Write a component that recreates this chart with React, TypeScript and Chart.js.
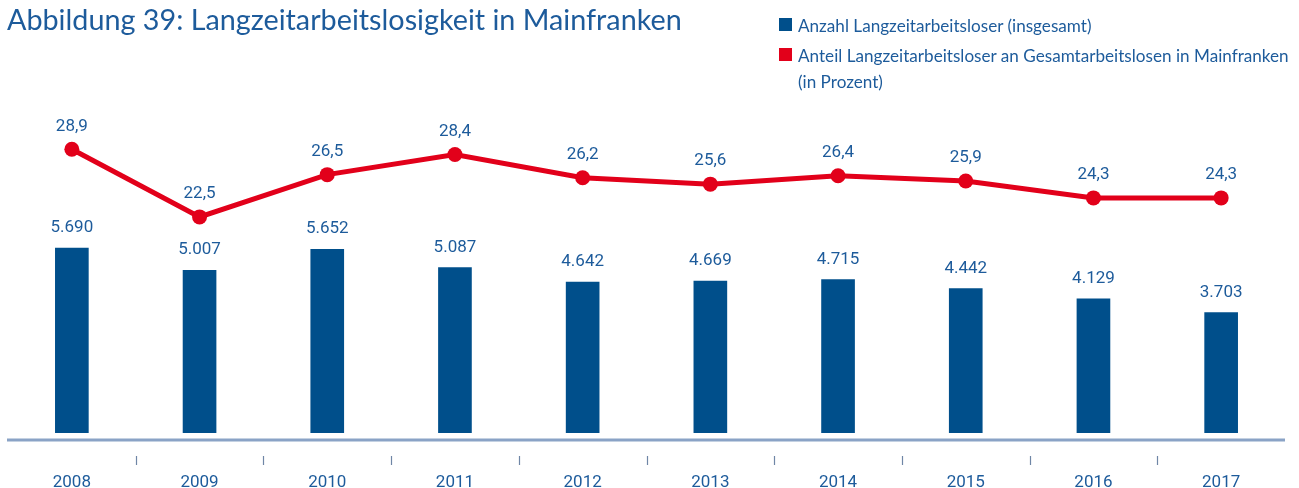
import React, { useEffect, useRef } from "react";
import { Chart, registerables } from "chart.js";

Chart.register(...registerables);

const years = ["2008", "2009", "2010", "2011", "2012", "2013", "2014", "2015", "2016", "2017"];
const anzahl = [5690, 5007, 5652, 5087, 4642, 4669, 4715, 4442, 4129, 3703];
const anteil = [28.9, 22.5, 26.5, 28.4, 26.2, 25.6, 26.4, 25.9, 24.3, 24.3];

const titleText = "Abbildung 39: Langzeitarbeitslosigkeit in Mainfranken";
const legendBar = "Anzahl Langzeitarbeitsloser (insgesamt)";
const legendLine1 = "Anteil Langzeitarbeitsloser an Gesamtarbeitslosen in Mainfranken";
const legendLine2 = "(in Prozent)";

const BLUE = "#004f8b";
const RED = "#e2001a";
const TEXT = "#1d5b9b";
const AXIS = "#8aa3c6";
const HEADFONT = 'Lato, "Open Sans", sans-serif';
const NUMFONT = "Roboto, sans-serif";

const fmtInt = (v: number) => {
  const s = String(Math.round(v));
  return s.replace(/\B(?=(\d{3})+(?!\d))/g, ".");
};
const fmtDec = (v: number) => v.toFixed(1).replace(".", ",");

let measureCtx: CanvasRenderingContext2D | null = null;
const measure = (text: string, font: string) => {
  if (!measureCtx) measureCtx = document.createElement("canvas").getContext("2d");
  if (!measureCtx) return 1;
  measureCtx.font = font;
  return measureCtx.measureText(text).width || 1;
};

const TITLE_SIZE = 28;
const LEGEND_SIZE = 18;
const titleScale = 674.7 / measure(titleText, `${TITLE_SIZE}px ${HEADFONT}`);
const legendScale = 491 / measure(legendLine1, `${LEGEND_SIZE}px ${HEADFONT}`);

const labelsPlugin = {
  id: "valueLabels",
  afterDatasetsDraw(chart: any) {
    const ctx = chart.ctx;
    ctx.save();
    ctx.fillStyle = TEXT;
    ctx.font = `17px ${NUMFONT}`;
    ctx.textAlign = "center";
    ctx.textBaseline = "middle";
    chart.data.datasets.forEach((ds: any, di: number) => {
      const meta = chart.getDatasetMeta(di);
      meta.data.forEach((el: any, i: number) => {
        const v = ds.data[i];
        if (ds.type === "line") {
          ctx.fillText(fmtDec(v), el.x, el.y - 23);
        } else {
          ctx.fillText(fmtInt(v), el.x, el.y - 20);
        }
      });
    });
    ctx.restore();
  },
};

const axisPlugin = {
  id: "customAxis",
  afterDraw(chart: any) {
    const ctx = chart.ctx;
    const area = chart.chartArea;
    const xs = chart.scales.x;
    ctx.save();
    ctx.strokeStyle = AXIS;
    ctx.lineWidth = 3;
    ctx.beginPath();
    ctx.moveTo(area.left - 1, area.bottom + 7);
    ctx.lineTo(area.right, area.bottom + 7);
    ctx.stroke();
    ctx.strokeStyle = "#6f86a6";
    ctx.lineWidth = 1.2;
    for (let i = 0; i < years.length - 1; i++) {
      const x = Math.round((xs.getPixelForValue(i) + xs.getPixelForValue(i + 1)) / 2) + 0.5;
      ctx.beginPath();
      ctx.moveTo(x, area.bottom + 23);
      ctx.lineTo(x, area.bottom + 32);
      ctx.stroke();
    }
    ctx.restore();
  },
};

const textStyle = (size: number, scale: number, left: number, top: number): React.CSSProperties => ({
  position: "absolute",
  left,
  top,
  fontFamily: HEADFONT,
  fontSize: size,
  lineHeight: `${size}px`,
  color: TEXT,
  whiteSpace: "nowrap",
  transform: `scaleX(${scale})`,
  transformOrigin: "left top",
});

export default function App() {
  const ref = useRef<HTMLCanvasElement | null>(null);

  useEffect(() => {
    if (!ref.current) return;
    const chart = new Chart(ref.current, {
      type: "bar",
      data: {
        labels: years,
        datasets: [
          {
            type: "line",
            label: legendLine1,
            data: anteil,
            yAxisID: "y2",
            borderColor: RED,
            backgroundColor: RED,
            borderWidth: 5,
            pointRadius: 7.5,
            pointBackgroundColor: RED,
            pointBorderWidth: 0,
            tension: 0,
            order: 0,
          } as any,
          {
            type: "bar",
            label: legendBar,
            data: anzahl,
            yAxisID: "y",
            backgroundColor: BLUE,
            barThickness: 33,
            order: 1,
          } as any,
        ],
      },
      options: {
        responsive: false,
        animation: false,
        devicePixelRatio: 1,
        layout: { padding: { left: 8, right: 14, top: 100, bottom: 0 } },
        plugins: {
          legend: { display: false },
          title: { display: false },
          tooltip: { enabled: false },
        },
        scales: {
          x: {
            offset: true,
            grid: { display: false, drawTicks: false },
            border: { display: false },
            ticks: {
              color: TEXT,
              font: { family: NUMFONT, size: 17 },
              padding: 40,
              maxRotation: 0,
              autoSkip: false,
            },
            afterFit: (scale: any) => {
              scale.height = 55;
            },
          },
          y: { display: false, min: 0, max: 10242 },
          y2: { display: false, min: 2.06, max: 33.56, position: "right" },
        },
      },
      plugins: [labelsPlugin, axisPlugin],
    });
    return () => chart.destroy();
  }, []);

  return (
    <div style={{ position: "fixed", left: 0, top: 0, width: 1299, height: 488, background: "#fff", overflow: "hidden" }}>
      <canvas ref={ref} width={1299} height={488} style={{ position: "absolute", left: 0, top: 0, width: 1299, height: 488 }} />
      <div style={textStyle(TITLE_SIZE, titleScale, 7.3, 5.2)}>{titleText}</div>
      <div style={{ position: "absolute", left: 779, top: 18, width: 13, height: 13, background: BLUE }} />
      <div style={{ position: "absolute", left: 779, top: 48, width: 13, height: 13, background: RED }} />
      <div style={textStyle(LEGEND_SIZE, legendScale, 798, 15.7)}>{legendBar}</div>
      <div style={textStyle(LEGEND_SIZE, legendScale, 798, 45.7)}>{legendLine1}</div>
      <div style={textStyle(LEGEND_SIZE, legendScale, 798, 72)}>{legendLine2}</div>
    </div>
  );
}
